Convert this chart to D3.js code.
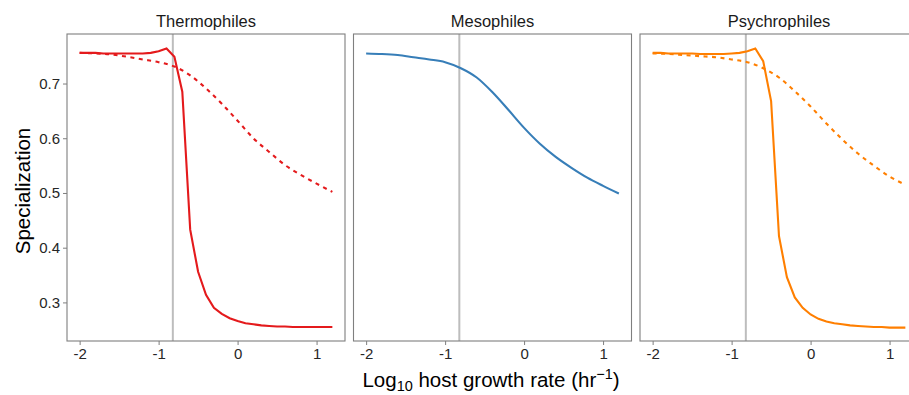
<!DOCTYPE html>
<html>
<head>
<meta charset="utf-8">
<script src="https://cdn.jsdelivr.net/npm/d3@7"></script>
<style>
  body { margin: 0; background: #fff; }
  svg text { font-family: "Liberation Sans", Arial, sans-serif; }
</style>
</head>
<body>
<svg id="chart" width="909" height="395"></svg>
<script>
// panel names
const panels = ['Thermophiles', 'Mesophiles', 'Psychrophiles'];
const colors = ['#e41a1c', '#377eb8', '#ff7f00'];

// fine x grid (log10 growth rate)
const xFine = [-2, -1.9, -1.8, -1.7, -1.6, -1.5, -1.4, -1.3, -1.2, -1.1, -1, -0.9, -0.8, -0.7, -0.6, -0.5,
  -0.4, -0.3, -0.2, -0.1, 0, 0.1, 0.2, 0.3, 0.4, 0.5, 0.6, 0.7, 0.8, 0.9, 1, 1.1, 1.2];
// coarse x grid for the smooth curves
const xCoarse = [-2, -1.8, -1.6, -1.4, -1.2, -1, -0.8, -0.6, -0.4, -0.2, 0, 0.2, 0.4, 0.6, 0.8, 1, 1.2];

const thermoSolid = [0.756, 0.756, 0.756, 0.755, 0.755, 0.755, 0.755, 0.755, 0.755, 0.756, 0.759, 0.764, 0.749,
  0.685, 0.433, 0.356, 0.314, 0.290, 0.279, 0.271, 0.266, 0.262, 0.260, 0.258, 0.257, 0.256, 0.256, 0.255,
  0.255, 0.255, 0.255, 0.255, 0.255];
const thermoDashed = [0.756, 0.755, 0.753, 0.749, 0.744, 0.739, 0.731, 0.715, 0.691, 0.663, 0.632, 0.600,
  0.575, 0.551, 0.533, 0.517, 0.502];
const mesoSolid = [0.755, 0.754, 0.752, 0.748, 0.744, 0.739, 0.728, 0.711, 0.684, 0.652, 0.619, 0.590,
  0.566, 0.546, 0.528, 0.513, 0.499];
const psychroSolid = [0.756, 0.756, 0.755, 0.755, 0.755, 0.755, 0.754, 0.754, 0.754, 0.754, 0.755, 0.756,
  0.759, 0.764, 0.741, 0.668, 0.421, 0.346, 0.309, 0.290, 0.278, 0.270, 0.265, 0.262, 0.260, 0.258, 0.257,
  0.256, 0.255, 0.255, 0.254, 0.254, 0.254];
const psychroDashed = [0.755, 0.754, 0.752, 0.750, 0.748, 0.744, 0.739, 0.728, 0.711, 0.686, 0.658, 0.627,
  0.598, 0.572, 0.550, 0.530, 0.515];

const vLine = -0.82;
const xTicks = [-2, -1, 0, 1];
const yTicks = [0.3, 0.4, 0.5, 0.6, 0.7];

const series = [
  [{ x: xFine, y: thermoSolid, dash: false }, { x: xCoarse, y: thermoDashed, dash: true }],
  [{ x: xCoarse, y: mesoSolid, dash: false }],
  [{ x: xFine, y: psychroSolid, dash: false }, { x: xCoarse, y: psychroDashed, dash: true }]
];

const svg = d3.select('#chart');
const pTop = 34, pBottom = 341, left0 = 67, pw = 278, gap = 8.5;

const y = d3.scaleLinear().domain([0.2295, 0.7905]).range([pBottom, pTop]);
const x = d3.scaleLinear().domain([-2.16, 1.36]).range([0, pw]);

panels.forEach((name, i) => {
  const g = svg.append('g').attr('transform', `translate(${left0 + i * (pw + gap)},0)`);

  g.append('text').attr('x', pw / 2).attr('y', 27).attr('text-anchor', 'middle')
    .attr('font-size', 16.5).attr('fill', '#1a1a1a').text(name);

  // reference line
  g.append('line').attr('x1', x(vLine)).attr('x2', x(vLine)).attr('y1', pTop).attr('y2', pBottom)
    .attr('stroke', '#bdbdbd').attr('stroke-width', 2);

  series[i].forEach(s => {
    const pts = s.x.map((v, k) => [v, s.y[k]]);
    const line = d3.line().x(d => x(d[0])).y(d => y(d[1]))
      .curve(s.x === xCoarse ? d3.curveMonotoneX : d3.curveLinear);
    g.append('path').attr('d', line(pts))
      .attr('fill', 'none').attr('stroke', colors[i]).attr('stroke-width', 2.1)
      .attr('stroke-dasharray', s.dash ? '4,4.5' : null);
  });

  g.append('rect').attr('x', 0).attr('y', pTop).attr('width', pw).attr('height', pBottom - pTop)
    .attr('fill', 'none').attr('stroke', '#7f7f7f').attr('stroke-width', 1.1);

  const ax = g.append('g').attr('transform', `translate(0,${pBottom})`)
    .call(d3.axisBottom(x).tickValues(xTicks).tickSize(4).tickPadding(3).tickFormat(d => d < 0 ? '-' + Math.abs(d) : d));
  ax.select('.domain').remove();
  ax.selectAll('line').attr('stroke', '#7f7f7f');
  ax.selectAll('text').attr('font-size', 15).attr('fill', '#262626').attr('font-family', '"Liberation Sans", Arial, sans-serif');

  if (i === 0) {
    const ay = g.append('g').call(d3.axisLeft(y).tickValues(yTicks).tickSize(4).tickPadding(3).tickFormat(d3.format('.1f')));
    ay.select('.domain').remove();
    ay.selectAll('line').attr('stroke', '#7f7f7f');
    ay.selectAll('text').attr('font-size', 15).attr('fill', '#262626').attr('font-family', '"Liberation Sans", Arial, sans-serif');
  }
});

svg.append('text').attr('transform', 'translate(30,191) rotate(-90)').attr('text-anchor', 'middle')
  .attr('font-size', 20.5).attr('fill', '#000').text('Specialization');

const xl = svg.append('text').attr('x', 491).attr('y', 387).attr('text-anchor', 'middle')
  .attr('font-size', 20.5).attr('fill', '#000');
xl.append('tspan').text('Log');
xl.append('tspan').attr('font-size', 14.5).attr('dy', 3.5).text('10');
xl.append('tspan').attr('dy', -3.5).text(' host growth rate (hr');
xl.append('tspan').attr('font-size', 14.5).attr('dy', -8).text('\u22121');
xl.append('tspan').attr('dy', 8).text(')');
</script>
</body>
</html>
